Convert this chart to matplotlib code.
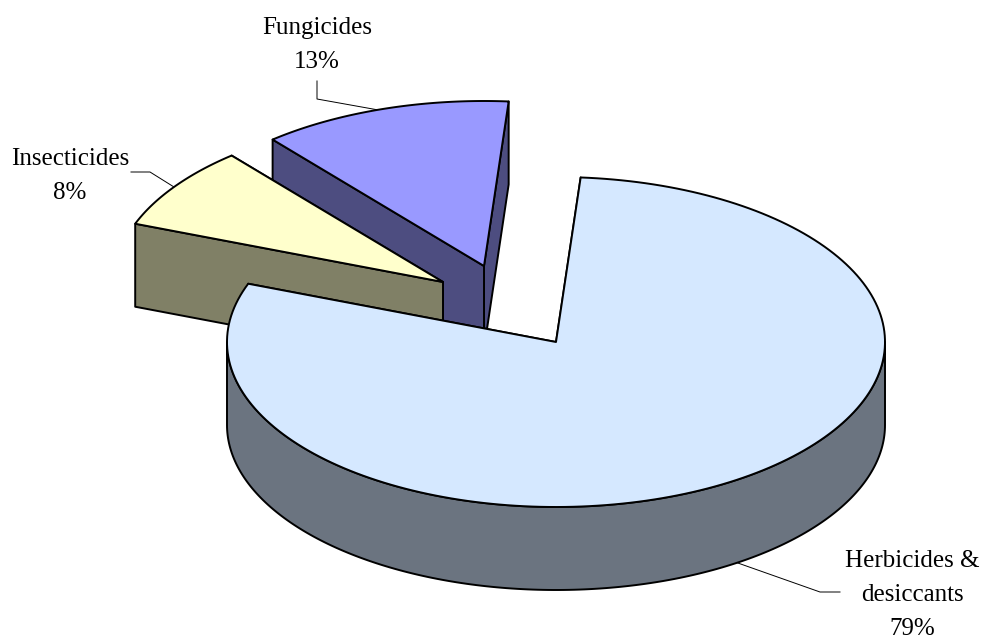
import numpy as np
import matplotlib
matplotlib.use("Agg")
import matplotlib.pyplot as plt

plt.rcParams["font.family"] = ["Liberation Serif", "DejaVu Serif"]

# Datos
categorias = ["Herbicides &\ndesiccants", "Insecticides", "Fungicides"]
valores = [79.55, 8.15, 12.3]
etiquetas_pct = ["79%", "8%", "13%"]

colores_arriba = ["#D5E8FF", "#FFFFCC", "#9999FF"]
colores_lado = ["#6B7480", "#808066", "#4D4D80"]

# Centro de cada sector (separados), en pixeles de la imagen
centros = [(556, 342), (443, 282), (484, 266)]
RX = 329
RY = 165
PROF = 83
INICIO = 85.7  # angulo donde empieza el primer sector

# Posicion de los textos y lineas guia
pos_texto = [(912, 635), (70, 199), (317, 68)]
guias = [
    ([840, 820, 735], [592, 592, 562]),
    ([131, 150, 174], [172, 172, 187]),
    ([317, 317, 384], [81, 99, 111]),
]


def punto(centro, ang):
    t = np.radians(ang)
    return centro[0] + RX * np.cos(t), centro[1] - RY * np.sin(t)


def poligono(ax, xs, ys, color, z):
    ax.fill(xs, ys, facecolor=color, edgecolor="black", linewidth=1.4,
            joinstyle="round", zorder=z)


def dibujar_sector(ax, centro, a1, a2, c_arriba, c_lado, z):
    # a1 > a2: el sector va en sentido horario
    x, y = punto(centro, np.linspace(a1, a2, 200))

    # pared exterior, solo la parte de adelante (-180 a 0 grados)
    if a2 < 0 and a1 > -180:
        xf, yf = punto(centro, np.linspace(min(a1, 0), max(a2, -180), 200))
        poligono(ax, np.r_[xf, xf[::-1]], np.r_[yf, yf[::-1] + PROF], c_lado, z)

    # caras planas, primero la de atras
    bordes = sorted([a1, a2], key=lambda a: punto(centro, a)[1])
    for a in bordes:
        px, py = punto(centro, a)
        poligono(ax,
                 [centro[0], px, px, centro[0]],
                 [centro[1], py, py + PROF, centro[1] + PROF],
                 c_lado, z + 0.1)

    # cara de arriba
    poligono(ax, np.r_[centro[0], x], np.r_[centro[1], y], c_arriba, z + 0.2)


fig = plt.figure(figsize=(9.84, 6.39), dpi=100)
ax = fig.add_axes([0, 0, 1, 1])
ax.set_xlim(0, 984)
ax.set_ylim(639, 0)
ax.axis("off")

limites = INICIO - np.cumsum([0] + valores) * 3.6

# El sector principal se dibuja al final porque tapa a los otros
for i in [2, 1, 0]:
    dibujar_sector(ax, centros[i], limites[i], limites[i + 1],
                   colores_arriba[i], colores_lado[i], 4 - i)

for i in range(3):
    ax.plot(guias[i][0], guias[i][1], color="black", linewidth=0.7, zorder=1)
    ax.text(pos_texto[i][0], pos_texto[i][1],
            categorias[i] + "\n" + etiquetas_pct[i],
            ha="center", va="baseline", fontsize=18, linespacing=1.7,
            color="black", zorder=6)

fig.savefig("out.png", dpi=100)
